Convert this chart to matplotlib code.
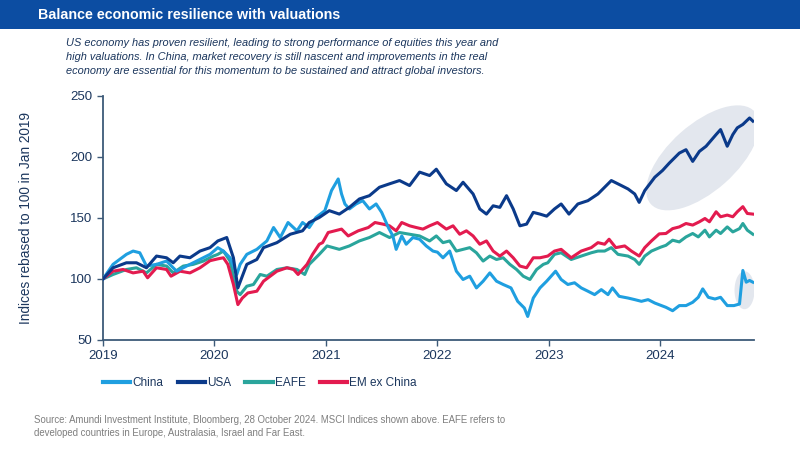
import matplotlib
matplotlib.use("Agg")
import matplotlib.pyplot as plt
from matplotlib.patches import Ellipse, Rectangle
from matplotlib.transforms import ScaledTranslation

plt.rcParams['font.family'] = ['Liberation Sans', 'DejaVu Sans']

# Data (year as decimal)
usa_t = [2019.00, 2019.09, 2019.21, 2019.30, 2019.39, 2019.48, 2019.57, 2019.63, 2019.69, 2019.78,
         2019.87, 2019.96, 2020.03, 2020.11, 2020.17, 2020.21, 2020.29, 2020.38, 2020.44, 2020.56,
         2020.68, 2020.79, 2020.85, 2020.94, 2021.03, 2021.12, 2021.21, 2021.30, 2021.39, 2021.48,
         2021.57, 2021.66, 2021.75, 2021.84, 2021.93, 2021.99, 2022.08, 2022.17, 2022.23, 2022.32,
         2022.38, 2022.44, 2022.50, 2022.56, 2022.62, 2022.68, 2022.74, 2022.80, 2022.86, 2022.92,
         2022.98, 2023.05, 2023.11, 2023.18, 2023.26, 2023.35, 2023.44, 2023.56, 2023.65, 2023.71,
         2023.77, 2023.81, 2023.86, 2023.95, 2024.02, 2024.08, 2024.17, 2024.23, 2024.29, 2024.35,
         2024.41, 2024.50, 2024.54, 2024.60, 2024.65, 2024.69, 2024.74, 2024.80, 2024.83]
usa_v = [100, 109.2, 113.3, 113.3, 109.2, 118.8, 117.4, 113.3, 118.8, 117.4,
         122.9, 125.7, 131.2, 134, 117.4, 92.7, 112, 116, 125.7, 129.8,
         136.7, 139.5, 146.3, 150.4, 156, 153.2, 158.7, 165.6, 168.3, 175.2,
         178, 180.7, 176.6, 187.6, 184.8, 190, 178, 172.5, 179.3, 169.7,
         157.4, 153.2, 160, 158.7, 168.3, 157.4, 143.6, 145, 154.6, 153.2,
         151.5, 157.4, 161.5, 153.2, 161.5, 164.2, 169.7, 180.7, 176.6, 173.8,
         169.7, 162.8, 172.5, 183.4, 189, 195, 203.2, 206, 196.4, 204.6,
         208.8, 218.4, 222.5, 208.8, 218.4, 223.9, 226.7, 232, 229.4]

china_t = [2019.00, 2019.09, 2019.21, 2019.27, 2019.33, 2019.39, 2019.48, 2019.57, 2019.66, 2019.75,
           2019.84, 2019.96, 2020.03, 2020.08, 2020.14, 2020.20, 2020.23, 2020.29, 2020.38, 2020.47,
           2020.53, 2020.59, 2020.66, 2020.74, 2020.79, 2020.85, 2020.91, 2020.99, 2021.05, 2021.11,
           2021.14, 2021.17, 2021.21, 2021.27, 2021.33, 2021.39, 2021.45, 2021.50, 2021.56, 2021.60,
           2021.63, 2021.68, 2021.72, 2021.78, 2021.84, 2021.90, 2021.96, 2022.00, 2022.05, 2022.11,
           2022.17, 2022.23, 2022.29, 2022.35, 2022.41, 2022.47, 2022.53, 2022.59, 2022.66, 2022.72,
           2022.78, 2022.81, 2022.86, 2022.92, 2022.98, 2023.06, 2023.11, 2023.17, 2023.23, 2023.29,
           2023.35, 2023.41, 2023.47, 2023.53, 2023.57, 2023.63, 2023.71, 2023.77, 2023.83, 2023.89,
           2023.95, 2024.05, 2024.11, 2024.17, 2024.23, 2024.29, 2024.34, 2024.38, 2024.43, 2024.49,
           2024.54, 2024.60, 2024.66, 2024.71, 2024.74, 2024.77, 2024.80, 2024.83]
china_v = [100, 112, 120.2, 122.9, 121.5, 110.6, 112, 114.7, 106.4, 110.6,
           114.7, 120.2, 125.7, 122.9, 117.4, 103.7, 112, 120.2, 124.3, 131.2,
           142.2, 134, 146.3, 139.5, 146.3, 142.2, 150.4, 156, 172.5, 182,
           169.7, 161.5, 157.4, 161.5, 164.2, 157.4, 161.5, 154.6, 142.2, 135.3,
           124.3, 135.3, 128.5, 134, 132.6, 127.1, 122.9, 122, 117.4, 122.9,
           106.4, 99.6, 102.3, 92.7, 98.2, 105, 98.2, 95.5, 92.7, 81.7,
           76.2, 69.3, 84.4, 92.7, 98.2, 106.4, 99.6, 95.5, 96.9, 92.7,
           90, 87.2, 91.3, 87.2, 92.7, 85.8, 84.4, 83.1, 81.7, 83.1,
           80.3, 76.8, 74, 78.2, 78.2, 80.9, 85, 91.9, 85, 83.6,
           85, 78.2, 78.2, 79.5, 107, 97.4, 98.8, 97.4]

eafe_t = [2019.00, 2019.09, 2019.21, 2019.30, 2019.39, 2019.48, 2019.57, 2019.63, 2019.72, 2019.81,
          2019.90, 2019.99, 2020.03, 2020.08, 2020.14, 2020.20, 2020.23, 2020.29, 2020.35, 2020.41,
          2020.47, 2020.56, 2020.65, 2020.74, 2020.81, 2020.85, 2020.94, 2021.01, 2021.12, 2021.21,
          2021.30, 2021.39, 2021.48, 2021.57, 2021.66, 2021.75, 2021.84, 2021.93, 2021.99, 2022.05,
          2022.11, 2022.17, 2022.23, 2022.29, 2022.35, 2022.41, 2022.47, 2022.53, 2022.59, 2022.65,
          2022.71, 2022.77, 2022.83, 2022.89, 2022.95, 2022.99, 2023.05, 2023.11, 2023.20, 2023.29,
          2023.38, 2023.44, 2023.50, 2023.56, 2023.62, 2023.71, 2023.77, 2023.81, 2023.86, 2023.92,
          2024.00, 2024.05, 2024.11, 2024.17, 2024.23, 2024.29, 2024.34, 2024.40, 2024.44, 2024.50,
          2024.54, 2024.60, 2024.65, 2024.71, 2024.74, 2024.78, 2024.83]
eafe_v = [100, 103.7, 107.8, 109.2, 105, 112, 110.6, 105, 110.6, 112,
          114.7, 118.8, 120.2, 122.9, 114.7, 90, 87.2, 94.1, 95.5, 103.7,
          102.3, 107.8, 109.2, 107.8, 103.7, 112, 120.2, 127.1, 124.3, 127.1,
          131.2, 134, 138.1, 134, 138.1, 136.7, 135.3, 131.2, 135.3, 129.8,
          131.2, 122.9, 124.3, 125.7, 121.5, 114.7, 118.8, 116, 117.4, 112,
          107.8, 102.3, 99.6, 107.8, 112, 113.3, 120.2, 121.5, 116, 118.8,
          121.5, 122.9, 122.9, 125.7, 120.2, 118.8, 116, 112, 118.8, 122.9,
          126, 127.6, 131.8, 130.4, 134.5, 137.3, 134.5, 140, 134.5, 140,
          137.3, 142.7, 138.6, 141.3, 145.5, 140, 136.7]

em_t = [2019.00, 2019.09, 2019.18, 2019.27, 2019.36, 2019.40, 2019.48, 2019.57, 2019.61, 2019.69,
        2019.78, 2019.87, 2019.96, 2020.03, 2020.08, 2020.12, 2020.17, 2020.21, 2020.25, 2020.30,
        2020.38, 2020.44, 2020.50, 2020.56, 2020.65, 2020.71, 2020.75, 2020.83, 2020.88, 2020.94,
        2020.97, 2021.02, 2021.08, 2021.14, 2021.20, 2021.29, 2021.38, 2021.44, 2021.51, 2021.57,
        2021.63, 2021.68, 2021.75, 2021.81, 2021.87, 2021.93, 2022.00, 2022.08, 2022.14, 2022.20,
        2022.26, 2022.32, 2022.38, 2022.44, 2022.50, 2022.56, 2022.62, 2022.68, 2022.74, 2022.80,
        2022.86, 2022.92, 2022.99, 2023.05, 2023.11, 2023.20, 2023.29, 2023.38, 2023.44, 2023.50,
        2023.54, 2023.60, 2023.68, 2023.74, 2023.81, 2023.86, 2023.92, 2023.99, 2024.05, 2024.11,
        2024.17, 2024.23, 2024.29, 2024.35, 2024.40, 2024.44, 2024.50, 2024.54, 2024.60, 2024.65,
        2024.69, 2024.74, 2024.78, 2024.83]
em_v = [100, 106.4, 107.8, 105, 106.4, 101, 109.2, 107.8, 102.3, 106.4,
        105, 109.2, 115, 116.5, 117.4, 112, 95.5, 79, 84.4, 88.6,
        90, 98.2, 102.3, 106.4, 109.2, 107.8, 103.7, 112, 120.2, 128.5,
        129.8, 138.1, 139.5, 140.9, 135.3, 139.5, 142.2, 146.3, 145, 143.6,
        139.5, 146.3, 143.6, 142.2, 140.9, 143.6, 146.3, 140.9, 143.6, 136.7,
        139.5, 135.3, 128.5, 131.2, 122.9, 118.8, 122.9, 117.4, 110.6, 109.2,
        117.4, 117.4, 118.8, 122.9, 124.3, 117.4, 122.9, 125.7, 129.8, 128.5,
        132.6, 125.7, 127.1, 122.9, 118.8, 125.7, 131.2, 137, 137.3, 141.3,
        142.7, 145.5, 144.2, 146.9, 149.6, 146.9, 155.1, 151, 152.4, 151,
        155.1, 159.3, 153.7, 153.2]

years = [2019, 2020, 2021, 2022, 2023, 2024]
yticks = [50, 100, 150, 200, 250]

navy = '#1b365d'
c_china = '#1f9fe0'
c_usa = '#0b3a8a'
c_eafe = '#2aa59c'
c_em = '#e31b4f'

fig = plt.figure(figsize=(8, 4.5), dpi=100)
fig.patch.set_facecolor('white')

# title band
fig.add_artist(Rectangle((0, 1 - 29 / 450), 1, 29 / 450, transform=fig.transFigure,
                         facecolor='#0c4da2', edgecolor='none'))
fig.text(38 / 800, 1 - 15 / 450, 'Balance economic resilience with valuations', color='white',
         fontsize=10.3, fontweight='bold', va='center', ha='left')

subtitle = ('US economy has proven resilient, leading to strong performance of equities this year and\n'
            'high valuations. In China, market recovery is still nascent and improvements in the real\n'
            'economy are essential for this momentum to be sustained and attract global investors.')
fig.text(66 / 800, 1 - 38 / 450, subtitle, color=navy, fontsize=7.9, style='italic',
         va='top', ha='left', linespacing=1.5)

ax = fig.add_axes([103 / 800, 1 - 340 / 450, (754 - 103) / 800, (340 - 96) / 450])

# highlight ellipses (sized in pixels, placed at data points)
ax.add_patch(Ellipse((0, 0), 139, 67, angle=41.6, facecolor='#e3e7ee', edgecolor='none', zorder=1,
                     transform=ScaledTranslation(2024.38, 199.3, ax.transData)))
ax.add_patch(Ellipse((0, 0), 20, 38, angle=0, facecolor='#e3e7ee', edgecolor='none', zorder=1,
                     transform=ScaledTranslation(2024.755, 90.8, ax.transData)))

lw = 2.2
ax.plot(eafe_t, eafe_v, color=c_eafe, lw=lw, zorder=3, label='EAFE')
ax.plot(em_t, em_v, color=c_em, lw=lw, zorder=4, label='EM ex China')
ax.plot(china_t, china_v, color=c_china, lw=lw, zorder=5, label='China')
ax.plot(usa_t, usa_v, color=c_usa, lw=lw, zorder=6, label='USA')

ax.set_xlim(2019, 2024.84)
ax.set_ylim(50, 250)
ax.set_xticks(years)
ax.set_xticklabels([str(y) for y in years])
ax.set_yticks(yticks)
ax.tick_params(axis='both', colors='#3d5a78', labelcolor=navy, labelsize=9.5, length=4, width=1)
ax.set_ylabel('Indices rebased to 100 in Jan 2019', color=navy, fontsize=9.8)
ax.yaxis.set_label_coords(-0.108, 0.5)

for s in ['top', 'right']:
    ax.spines[s].set_visible(False)
for s in ['left', 'bottom']:
    ax.spines[s].set_color('#3d5a78')
    ax.spines[s].set_linewidth(1.3)

handles, labels = ax.get_legend_handles_labels()
order = [labels.index(n) for n in ['China', 'USA', 'EAFE', 'EM ex China']]
fig.legend([handles[i] for i in order], [labels[i] for i in order], loc='center',
           bbox_to_anchor=(260 / 800, 1 - 383 / 450), ncol=4, frameon=False, fontsize=8.5,
           handlelength=2.3, handletextpad=0.2, columnspacing=1.2, labelcolor=navy)
for h in fig.legends[0].get_lines():
    h.set_linewidth(3)

source = ('Source: Amundi Investment Institute, Bloomberg, 28 October 2024. MSCI Indices shown above. EAFE refers to\n'
          'developed countries in Europe, Australasia, Israel and Far East.')
fig.text(34 / 800, 1 - 415 / 450, source, color='#7f7f7f', fontsize=6.9, va='top', ha='left',
         linespacing=1.35)

fig.savefig('out.png', dpi=100)
